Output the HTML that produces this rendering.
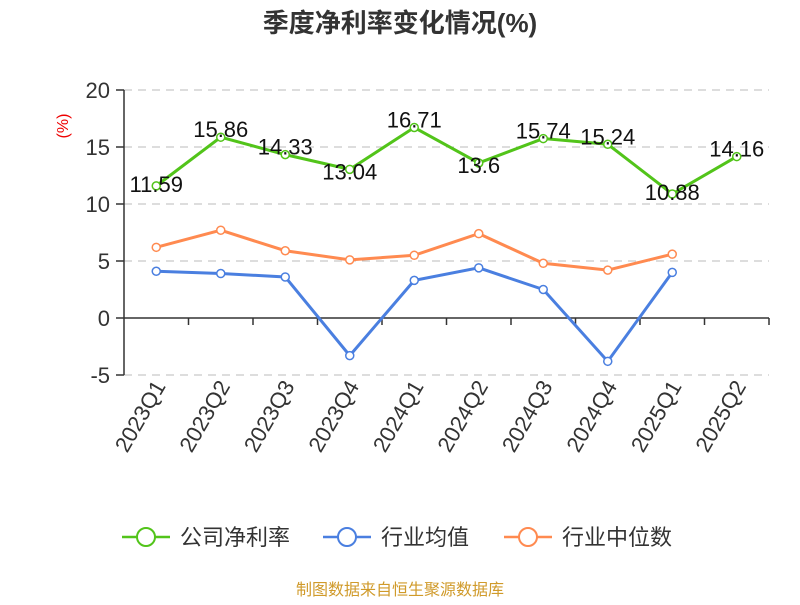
<!DOCTYPE html>
<html><head><meta charset="utf-8"><style>
body{margin:0;background:#fff;font-family:"Liberation Sans","Noto Sans CJK SC",sans-serif}
</style></head><body>
<svg id="c" width="800" height="600" xmlns="http://www.w3.org/2000/svg">
<text x="400" y="32" text-anchor="middle" font-size="26" font-weight="bold" fill="#333" font-family="Liberation Sans, Noto Sans CJK SC, sans-serif">季度净利率变化情况(%)</text>
<text x="68" y="126" fill="#e00" font-size="16" transform="rotate(-90 68 126)" text-anchor="middle">(%)</text>
<g id="grid"></g><g id="axes"></g><g id="series"></g>
<g font-size="22" fill="#333" font-family="Liberation Sans, Noto Sans CJK SC, sans-serif">
<g><line x1="122" y1="537" x2="170" y2="537" stroke="#52c41a" stroke-width="2.5"/><circle cx="146" cy="537" r="9" fill="#fff" stroke="#52c41a" stroke-width="2"/><text x="180" y="545">公司净利率</text></g>
<g><line x1="323" y1="537" x2="371" y2="537" stroke="#4a7fe0" stroke-width="2.5"/><circle cx="347" cy="537" r="9" fill="#fff" stroke="#4a7fe0" stroke-width="2"/><text x="381" y="545">行业均值</text></g>
<g><line x1="504" y1="537" x2="552" y2="537" stroke="#ff8a50" stroke-width="2.5"/><circle cx="528" cy="537" r="9" fill="#fff" stroke="#ff8a50" stroke-width="2"/><text x="562" y="545">行业中位数</text></g>
</g>
<text x="400" y="595" text-anchor="middle" font-size="16" fill="#d09a2a" font-family="Liberation Sans, Noto Sans CJK SC, sans-serif">制图数据来自恒生聚源数据库</text>
</svg>
<script>
const categories=["2023Q1","2023Q2","2023Q3","2023Q4","2024Q1","2024Q2","2024Q3","2024Q4","2025Q1","2025Q2"];
const company=[11.59,15.86,14.33,13.04,16.71,13.6,15.74,15.24,10.88,14.16];
const industryAvg=[4.1,3.9,3.6,-3.3,3.3,4.4,2.5,-3.8,4.0];
const industryMedian=[6.2,7.7,5.9,5.1,5.5,7.4,4.8,4.2,5.6];
const yTicks=[-5,0,5,10,15,20];
const NS="http://www.w3.org/2000/svg";
const x0=124,x1=769,step=(x1-x0)/categories.length;
const X=i=>x0+step*(i+0.5);
const Y=v=>318-v*57/5;
function mk(t,a,p){const e=document.createElementNS(NS,t);for(const k in a)e.setAttribute(k,a[k]);p.appendChild(e);return e;}
const grid=document.getElementById('grid'),axes=document.getElementById('axes'),ser=document.getElementById('series');
yTicks.forEach(v=>{
 if(v!==0){const g=mk('line',{x1:x0,x2:x1,y1:Y(v),y2:Y(v),stroke:'#bbb','stroke-dasharray':'8,6'},grid);
 
 }
 mk('line',{x1:x0-8,x2:x0,y1:Y(v),y2:Y(v),stroke:'#333','stroke-width':1.5},axes);
 const t=mk('text',{x:x0-14,y:Y(v)+8,'text-anchor':'end','font-size':22,fill:'#333'},axes);t.textContent=v;
 
 
});
const ya=mk('line',{x1:x0,x2:x0,y1:Y(20),y2:Y(-5),stroke:'#333','stroke-width':1.5},axes);


const xa=mk('line',{x1:x0,x2:x1,y1:Y(0),y2:Y(0),stroke:'#333','stroke-width':1.5},axes);


categories.forEach((c,i)=>{
 mk('line',{x1:x0+step*(i+1),x2:x0+step*(i+1),y1:Y(0),y2:Y(0)+7,stroke:'#333','stroke-width':1.5},axes);
 const t=mk('text',{x:X(i)+10,y:386,'text-anchor':'end','font-size':22,fill:'#333',transform:`rotate(-60 ${X(i)+10} 386)`},axes);t.textContent=c;
 
 
});
function series(d,col,name,labels){
 const g=mk('g',{},ser);
 
 
 mk('polyline',{points:d.map((v,i)=>X(i)+','+Y(v)).join(' '),fill:'none',stroke:col,'stroke-width':3},g);
 d.forEach((v,i)=>{const p=mk('circle',{cx:X(i),cy:Y(v),r:4,fill:'#fff',stroke:col,'stroke-width':1.5},g);
  
  
  if(labels){const t=mk('text',{x:X(i),'text-anchor':'middle','font-size':22,fill:'#111'},g);
   t.setAttribute('y',(i===0||i===8)?Y(v)+6:Y(v)+(i===3||i===5?10:0));
   t.textContent=v;
   
   }
 });
}
series(industryMedian,'#ff8a50','series-industry-median',false);
series(industryAvg,'#4a7fe0','series-industry-avg',false);
series(company,'#52c41a','series-company',true);
</script>
</body></html>
